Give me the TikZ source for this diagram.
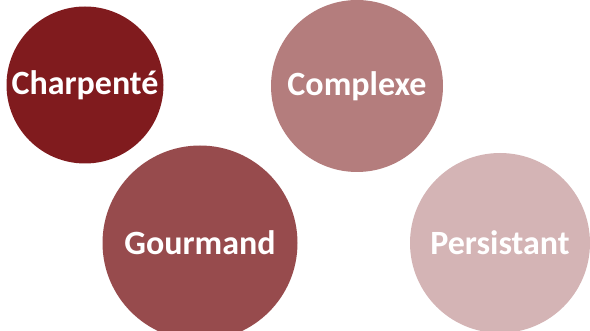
\documentclass[tikz,border=0pt]{standalone}
\usepackage{fontspec}
\setmainfont{Carlito}
\usetikzlibrary{positioning}
\definecolor{winedark}{HTML}{801B1E}
\definecolor{winemid}{HTML}{974B4D}
\definecolor{winelight}{HTML}{B47D7D}
\definecolor{winepale}{HTML}{D4B4B5}
\begin{document}
\begin{tikzpicture}[
	x=1pt, y=1pt,
	tastenode/.style={circle, draw=none, inner sep=0pt, text=white, font=\bfseries\fontsize{34}{38}\selectfont},
	]
	\useasboundingbox (0,0) rectangle (590,330);
	\clip (0,0) rectangle (590,330);
	%Nodes
	\node[tastenode, fill=winedark,  minimum size=157pt] (charp) at (85,245)  {Charpenté};
	\node[tastenode, fill=winelight, minimum size=172pt] (compl) at (357,244) {Complexe};
	\node[tastenode, fill=winemid,   minimum size=195pt] (gourm) at (200,87)  {Gourmand};
	\node[tastenode, fill=winepale,  minimum size=180pt] (persi) at (500,87)  {Persistant};
\end{tikzpicture}
\end{document}
